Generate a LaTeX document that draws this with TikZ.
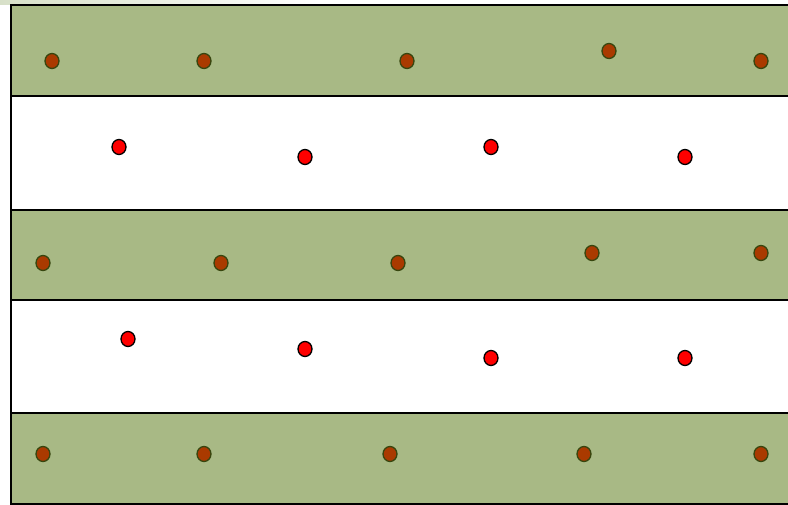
\documentclass[tikz,border=0pt]{standalone}
\definecolor{bandgreen}{RGB}{168,185,133}
\definecolor{seedbrown}{RGB}{170,58,0}
\definecolor{seedrim}{RGB}{55,70,15}
\definecolor{haze}{RGB}{215,224,200}
\tikzset{
  band/.style={fill=bandgreen, draw=black, line width=1.4pt},
  gap/.style={fill=white, draw=black, line width=1.4pt},
  seed/.style={ellipse, inner sep=0pt, minimum width=14pt, minimum height=15pt, fill=seedbrown, draw=seedrim, line width=1.3pt},
  reddot/.style={ellipse, inner sep=0pt, minimum width=14pt, minimum height=15pt, fill=red, draw=black, line width=1.3pt}
}
\usetikzlibrary{shapes.geometric}
\begin{document}
\begin{tikzpicture}[x=1pt,y=-1pt]
\useasboundingbox (0,0) rectangle (788,505);
\fill[white] (0,0) rectangle (788,505);
\shade[left color=haze, right color=white] (0,0) rectangle (320,5);
\draw[band] (11,5) rectangle (800,96);
\draw[gap] (11,96) rectangle (800,210);
\draw[band] (11,210) rectangle (800,300);
\draw[gap] (11,300) rectangle (800,413);
\draw[band] (11,413) rectangle (800,504);
% row 1
\node[seed] (a1) at (52,61) {};
\node[seed] (a2) at (204,61) {};
\node[seed] (a3) at (407,61) {};
\node[seed] (a4) at (609,51) {};
\node[seed] (a5) at (761,61) {};
% red row 1
\node[reddot] (r1) at (119,147) {};
\node[reddot] (r2) at (305,157) {};
\node[reddot] (r3) at (491,147) {};
\node[reddot] (r4) at (685,157) {};
% row 3
\node[seed] (b1) at (43,263) {};
\node[seed] (b2) at (221,263) {};
\node[seed] (b3) at (398,263) {};
\node[seed] (b4) at (592,253) {};
\node[seed] (b5) at (761,253) {};
% red row 2
\node[reddot] (s1) at (128,339) {};
\node[reddot] (s2) at (305,349) {};
\node[reddot] (s3) at (491,358) {};
\node[reddot] (s4) at (685,358) {};
% row 5
\node[seed] (c1) at (43,454) {};
\node[seed] (c2) at (204,454) {};
\node[seed] (c3) at (390,454) {};
\node[seed] (c4) at (584,454) {};
\node[seed] (c5) at (761,454) {};
\end{tikzpicture}
\end{document}
